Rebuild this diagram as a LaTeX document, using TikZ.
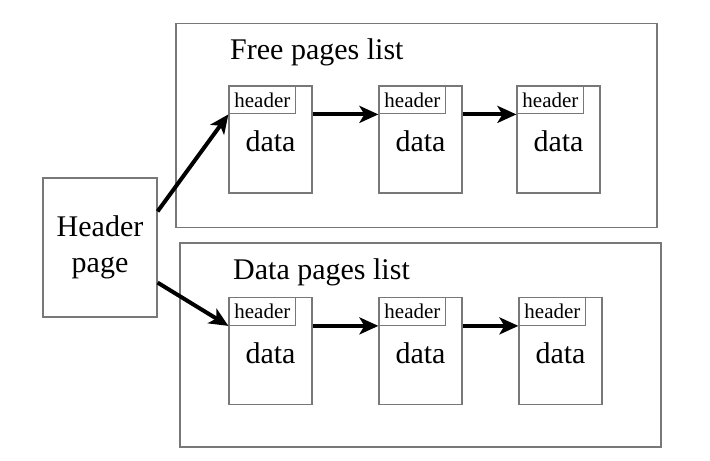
\documentclass[tikz,border=0pt]{standalone}
\usepackage{fontspec}
\setmainfont{Liberation Serif}
\usetikzlibrary{arrows.meta, positioning}
\definecolor{boxgray}{RGB}{120,120,120}

\begin{document}
\begin{tikzpicture}[
    x=1bp, y=-1bp,
    listbox/.style={rectangle, draw=boxgray, line width=1.2bp, minimum width=481bp, minimum height=204bp, inner sep=0},
    pagebox/.style={rectangle, draw=boxgray, line width=1.2bp, minimum width=83bp, minimum height=107bp, inner sep=0},
    hdr/.style={rectangle, draw=boxgray, line width=1bp, minimum width=67bp, minimum height=28bp, inner sep=0, font=\fontsize{21bp}{23bp}\selectfont},
    big/.style={font=\fontsize{30bp}{36bp}\selectfont},
    arrow/.style={-{Stealth[length=19bp, width=17bp, inset=5bp]}, line width=4bp}
]
    \useasboundingbox (0,0) rectangle (710,461);

    % Header page
    \node[rectangle, draw=boxgray, line width=1.2bp, minimum width=114bp, minimum height=139bp, align=center, big] (hp) at (100,247.5) {Header\\page};

    % Lists
    \node[listbox] (free) at (416.5,125.5) {};
    \node[listbox] (used) at (420.5,345) {};
    \node[big, anchor=base west, inner sep=0] (freetitle) at (230,60) {Free pages list};
    \node[big, anchor=base west, inner sep=0] (usedtitle) at (233,280) {Data pages list};

    % Free pages
    \node[pagebox] (f1) at (270.5,139.5) {};
    \node[pagebox] (f2) at (420.5,139.5) {};
    \node[pagebox] (f3) at (558.5,139.5) {};

    % Data pages
    \node[pagebox] (d1) at (270.5,351) {};
    \node[pagebox] (d2) at (420.5,351) {};
    \node[pagebox] (d3) at (560.5,351) {};

    % Page contents
    \foreach \p in {f1,f2,f3,d1,d2,d3} {
        \node[hdr, anchor=north west] (\p h) at (\p.north west) {header};
        \node[big] (\p d) at ([yshift=-2bp]\p.center) {data};
    }

    % Links
    \draw[arrow] ([yshift=-34bp]hp.north east) -- (f1h.south west);
    \draw[arrow] ([yshift=35bp]hp.south east) -- (d1h.south west);
    \draw[arrow] (f1.east |- f1h.south) -- (f2h.south west);
    \draw[arrow] (f2.east |- f2h.south) -- (f3h.south west);
    \draw[arrow] (d1.east |- d1h.south) -- (d2h.south west);
    \draw[arrow] (d2.east |- d2h.south) -- (d3h.south west);
\end{tikzpicture}
\end{document}
